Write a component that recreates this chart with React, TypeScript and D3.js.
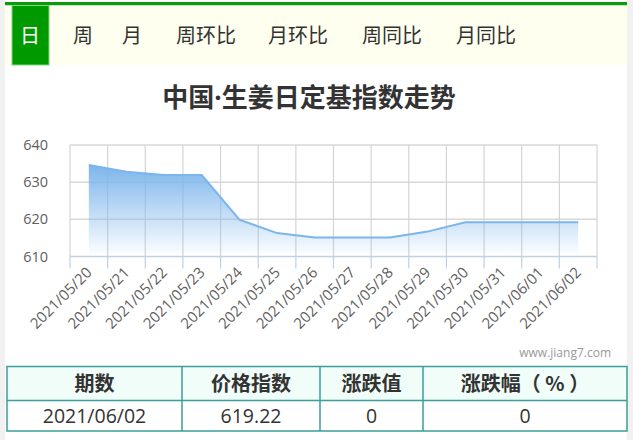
import React from "react";
import * as d3 from "d3";

const tabs = ["日", "周", "月", "周环比", "月环比", "周同比", "月同比"];
const tabCenters = [30, 83, 132, 206, 298, 392, 486];
const dates = [
  "2021/05/20", "2021/05/21", "2021/05/22", "2021/05/23", "2021/05/24",
  "2021/05/25", "2021/05/26", "2021/05/27", "2021/05/28", "2021/05/29",
  "2021/05/30", "2021/05/31", "2021/06/01", "2021/06/02",
];
const values = [634.6, 632.8, 631.9, 631.9, 619.9, 616.3, 615.1, 615.1, 615.1, 616.7, 619.22, 619.22, 619.22, 619.22];
const yTicks = [610, 620, 630, 640];
const tableHeaders = ["期数", "价格指数", "涨跌值", "涨跌幅（ % ）"];
const tableRow = ["2021/06/02", "619.22", "0", "0"];
const colEdges = [7, 182, 320, 423, 627];

const W = 633, H = 440;
const cjk = "'Noto Sans CJK SC', 'Microsoft YaHei', sans-serif";
const latin = "'Open Sans', 'Noto Sans', sans-serif";

export default function App() {
  const x = d3.scaleBand<string>().domain(dates).range([70, 597]);
  const y = d3.scaleLinear().domain([610, 640]).range([256.5, 145]);
  const cx = (d: string) => (x(d) as number) + x.bandwidth() / 2;

  const area = d3.area<number>()
    .x((_, i) => cx(dates[i]))
    .y0(y(610) - 2)
    .y1((v) => y(v));
  const line = d3.line<number>()
    .x((_, i) => cx(dates[i]))
    .y((v) => y(v));

  const boundaries = dates.map((d) => x(d) as number).concat([597]);

  return (
    <svg width={W} height={H} style={{ position: "absolute", left: 0, top: 0 }} fontFamily={cjk}>
      <defs>
        <linearGradient id="g" x1="0" y1="0" x2="0" y2="1">
          <stop offset="0%" stopColor="#7cb5ec" stopOpacity={1} />
          <stop offset="100%" stopColor="#7cb5ec" stopOpacity={0.02} />
        </linearGradient>
      </defs>
      <rect x={0} y={0} width={W} height={H} fill="#f1f1f1" />
      <rect x={5} y={0} width={622} height={H} fill="#ffffff" />
      {/* tab bar */}
      <rect x={5} y={2} width={622} height={3.5} fill="#0a9a0a" />
      <rect x={5} y={5.5} width={622} height={59.5} fill="#fffff0" />
      <rect x={12} y={5.5} width={37} height={59.5} fill="#009900" stroke="#7dd87d" strokeWidth={1} />
      {tabs.map((t, i) => (
        <text key={t} x={tabCenters[i]} y={43} textAnchor="middle" fontSize={20}
          fill={i === 0 ? "#ffffff" : "#333333"}>{t}</text>
      ))}
      {/* title */}
      <text x={309} y={107} textAnchor="middle" fontSize={26} fontWeight="bold" fill="#333333">
        中国<tspan fontFamily={latin}>·</tspan>生姜日定基指数走势
      </text>
      {/* grid */}
      {yTicks.filter((t) => t !== 610).map((t) => (
        <line key={t} x1={70} x2={597} y1={y(t)} y2={y(t)} stroke="#d8d8d8" strokeWidth={1.5} />
      ))}
      {boundaries.map((b, i) => (
        <line key={i} x1={b} x2={b} y1={y(640)} y2={y(610)} stroke="#d4d4d4" strokeWidth={1.2} />
      ))}
      {/* area */}
      <path d={area(values) || ""} fill="url(#g)" />
      <path d={line(values) || ""} fill="none" stroke="#7cb5ec" strokeWidth={2} />
      {/* x axis */}
      <line x1={70} x2={597} y1={y(610)} y2={y(610)} stroke="#c0d0e0" strokeWidth={1.5} />
      {boundaries.map((b, i) => (
        <line key={"t" + i} x1={b} x2={b} y1={y(610)} y2={y(610) + 12} stroke="#c0d0e0" strokeWidth={1.2} />
      ))}
      {yTicks.map((t) => (
        <text key={t} x={48} y={y(t) + 5} textAnchor="end" fontSize={14.5} fill="#606060"
          fontFamily={latin}>{t}</text>
      ))}
      {dates.map((d) => (
        <text key={d} transform={`translate(${cx(d) + 4},${y(610) + 17}) rotate(-45)`}
          textAnchor="end" fontSize={15} fill="#606060"
          fontFamily={latin}>{d}</text>
      ))}
      <text x={611} y={357} textAnchor="end" fontSize={12} fill="#999999"
        fontFamily={latin}>www.jiang7.com</text>
      {/* table */}
      <rect x={7} y={366.5} width={620} height={33.5} fill="#f0fdf8" />
      <rect x={7} y={366.5} width={620} height={64.5} fill="none" stroke="#3a9e9a" strokeWidth={1.5} />
      <line x1={7} x2={627} y1={400.5} y2={400.5} stroke="#3a9e9a" strokeWidth={1.5} />
      {colEdges.slice(1, -1).map((c) => (
        <line key={c} x1={c} x2={c} y1={366.5} y2={431} stroke="#3a9e9a" strokeWidth={1.5} />
      ))}
      {tableHeaders.map((h, i) => (
        <text key={h} x={(colEdges[i] + colEdges[i + 1]) / 2} y={391} textAnchor="middle"
          fontSize={20} fontWeight="bold" fill="#333333">{h}</text>
      ))}
      {tableRow.map((v, i) => (
        <text key={i} x={(colEdges[i] + colEdges[i + 1]) / 2} y={423} textAnchor="middle"
          fontSize={19.5} fill="#333333" fontFamily={latin}>{v}</text>
      ))}
    </svg>
  );
}
